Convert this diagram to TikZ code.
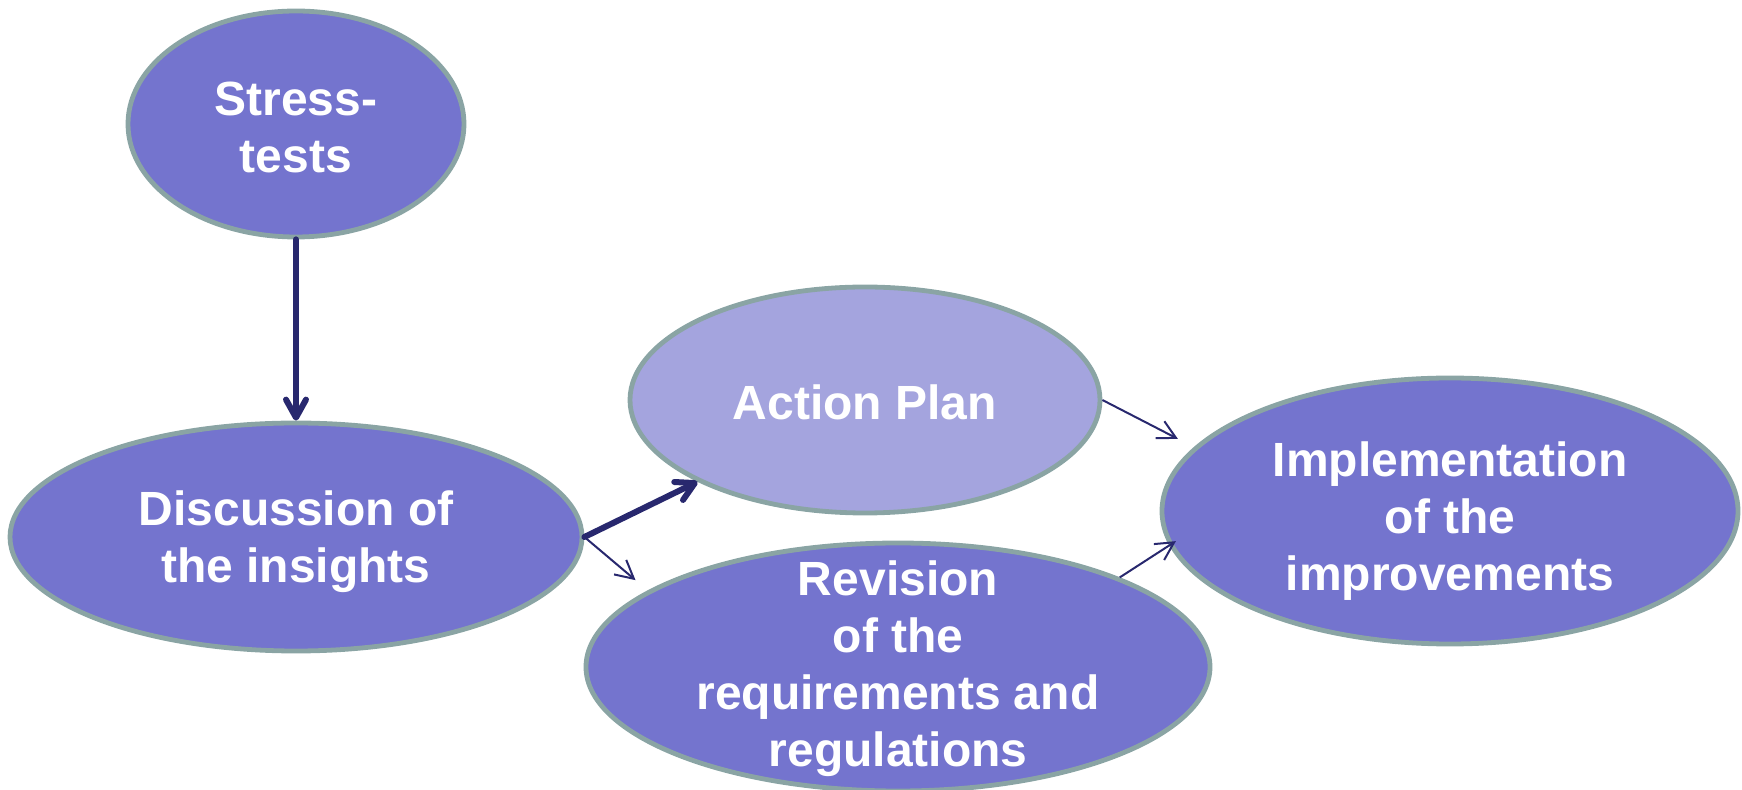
\documentclass[tikz,border=0pt]{standalone}
\usepackage{fontspec}
\setmainfont{Liberation Sans}
\usetikzlibrary{shapes.geometric,arrows.meta}

\definecolor{bubblefill}{RGB}{116,116,206}
\definecolor{bubblelight}{RGB}{164,164,222}
\definecolor{bubbleedge}{RGB}{138,164,164}
\definecolor{arrowink}{RGB}{40,40,110}

\tikzset{
  bubble/.style={ellipse, draw=bubbleedge, line width=2.4pt, fill=bubblefill, inner sep=0pt},
  lighter/.style={fill=bubblelight},
  caption/.style={text=white, align=center, inner sep=0pt,
    font=\bfseries\fontsize{24pt}{28.5pt}\selectfont},
  boldlink/.style={draw=arrowink, line width=3pt, line cap=round,
    -{Straight Barb[length=9pt,width=10pt,line cap=round,line join=round]}},
  thinlink/.style={draw=arrowink, line width=1pt,
    -{Straight Barb[length=9pt,width=9.5pt]}},
}

\begin{document}
\begin{tikzpicture}[x=0.5pt, y=-0.5pt]
  \useasboundingbox (0,0) rectangle (1742,790);

  % ellipses
  \node[bubble, minimum width=168pt, minimum height=113pt] (st) at (296,124) {};
  \node[bubble, minimum width=286pt, minimum height=114pt] (disc) at (296,537) {};
  \node[bubble, lighter, minimum width=235pt, minimum height=113pt] (ap) at (865,400) {};
  \node[bubble, minimum width=312pt, minimum height=124pt] (rev) at (898,667) {};
  \node[bubble, minimum width=288pt, minimum height=133pt] (impl) at (1450,511) {};

  % captions
  \node[caption] (st-t) at ([yshift=-1.5pt]st) {Stress-\\tests};
  \node[caption] (disc-t) at ([yshift=-2.5pt]disc) {Discussion of\\the insights};
  \node[caption] (ap-t) at ([yshift=-1pt]ap) {Action Plan};
  \node[caption] (rev-t) at ([yshift=-1pt]rev) {Revision\\of the\\requirements and\\regulations};
  \node[caption] (impl-t) at ([yshift=-5pt]impl) {Implementation\\of the\\improvements};

  % connectors
  \draw[boldlink] (st.south) -- (disc.north);
  \draw[boldlink] (disc.east) -- (ap);
  \draw[thinlink, shorten >=8pt] (disc.east) -- (rev.163);
  \draw[thinlink, shorten >=9pt] (ap.east) -- (impl.166);
  \draw[thinlink, shorten >=-4pt] (rev.22) -- (impl.187);
\end{tikzpicture}
\end{document}
